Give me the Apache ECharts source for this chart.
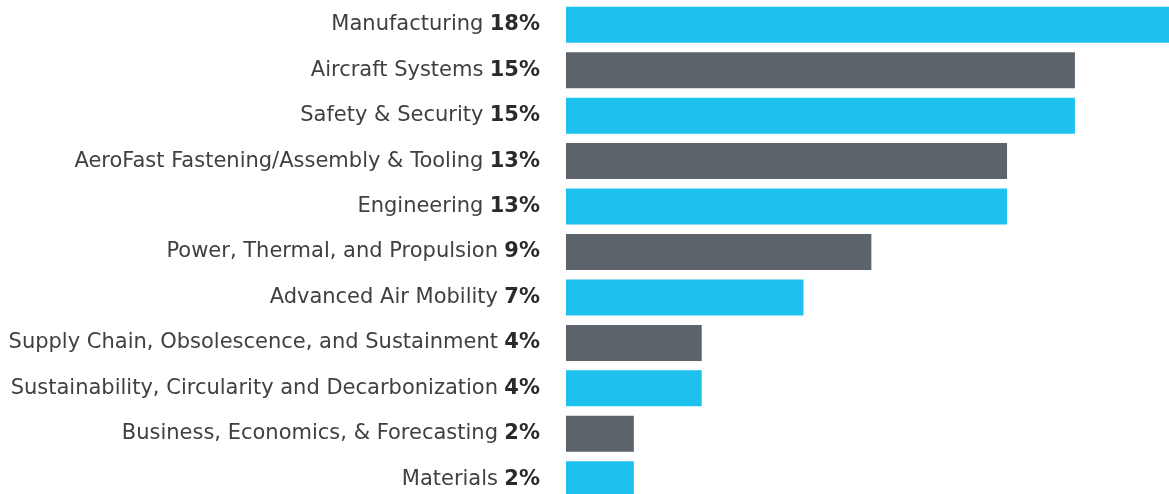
<!DOCTYPE html>
<html lang="en">
<head>
    <meta charset="UTF-8">
    <title>Topic share</title>
    <script src="https://cdn.jsdelivr.net/npm/echarts@6/dist/echarts.min.js"></script>
    <style type="text/css">
        html, body { margin: 0; padding: 0; background: #fff; overflow: hidden; }
        /* a bit larger than the window: the top bar and last bar run off the edge */
        #main { width: 1190px; height: 510px; }
    </style>
</head>
<body>
<div id="main"></div>
<script>
    // categories and shares (percent), top to bottom
    var categories = [
        'Manufacturing',
        'Aircraft Systems',
        'Safety & Security',
        'AeroFast Fastening/Assembly & Tooling',
        'Engineering',
        'Power, Thermal, and Propulsion',
        'Advanced Air Mobility',
        'Supply Chain, Obsolescence, and Sustainment',
        'Sustainability, Circularity and Decarbonization',
        'Business, Economics, & Forecasting',
        'Materials'
    ];
    var shares = [18, 15, 15, 13, 13, 9, 7, 4, 4, 2, 2];

    var colors = ['#1ec1ee', '#5c636b'];

    var chart = echarts.init(document.getElementById('main'));
    chart.setOption({
        animation: false,
        grid: { left: 566, top: 2, width: 610.7, height: 500 },
        xAxis: {
            type: 'value', min: 0, max: 18,
            show: false
        },
        yAxis: {
            type: 'category',
            inverse: true,
            data: categories,
            axisLine: { show: false },
            axisTick: { show: false },
            axisLabel: {
                margin: 26,
                formatter: function (value, index) {
                    return '{n|' + value + '} {b|' + shares[index] + '%}';
                },
                rich: {
                    n: { fontFamily: 'DejaVu Sans', fontSize: 21, color: '#404040' },
                    b: { fontFamily: 'DejaVu Sans', fontSize: 21, fontWeight: 'bold', color: '#2a2a2a', padding: [0, 0, 0, 3] }
                }
            }
        },
        series: [{
            type: 'bar',
            data: shares,
            barWidth: 36,
            itemStyle: {
                color: function (p) { return colors[p.dataIndex % 2]; }
            }
        }]
    });
</script>
</body>
</html>
